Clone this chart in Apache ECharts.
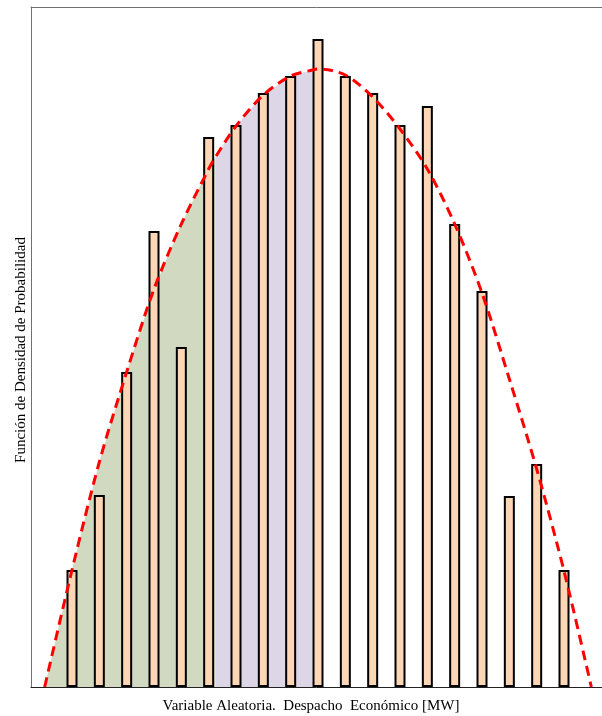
<!DOCTYPE html>
<html>
<head>
<meta charset="utf-8">
<script src="https://cdn.jsdelivr.net/npm/echarts@6/dist/echarts.min.js"></script>
<style>html,body{margin:0;padding:0;background:#fff;}#c{width:602px;height:716px;}</style>
</head>
<body>
<div id="c"></div>
<script>
// Histogram bin centres (class index) and bar heights (relative density)
const binCenters = [1,2,3,4,5,6,7,8,9,10,11,12,13,14,15,16,17,18,19];
const barHeights = [117,192,315,456,340,550,562,594,611,648,611,594,562,581,463,396,191,223,117];

// Fitted density curve (dashed)
const curveX = [0,1,2,3,4,5,6,6.25,7,8,9,9.8,10,11,12,13,14,15,16,17,18,19,20];
const curveY = [0,117,225,315,398,463,518,530,561,592,611,617,618,612,590,558,518,463,394,308,218,116,0];

// Shaded regions under the curve
const greenFrom = 0, greenTo = 6.25;
const purpleFrom = 6.25, purpleTo = 9.8;

const xLabel = 'Variable Aleatoria.  Despacho  Económico [MW]';
const yLabel = 'Función de Densidad de Probabilidad';

const curve = curveX.map((x, i) => [x, curveY[i]]);
const greenPts = curve.filter(p => p[0] >= greenFrom && p[0] <= greenTo);
const purplePts = curve.filter(p => p[0] >= purpleFrom && p[0] <= purpleTo);
const bars = binCenters.map((x, i) => [x, barHeights[i]]);

const xMin = -0.5, xMax = 20.39;
const hidden = {axisTick: {show: false}, axisLabel: {show: false}, splitLine: {show: false}};

const chart = echarts.init(document.getElementById('c'), null, {renderer: 'canvas'});
chart.setOption({
  animation: false,
  backgroundColor: '#ffffff',
  grid: {left: 31, top: 7, right: 0, bottom: 29, show: false},
  xAxis: [
    Object.assign({type: 'value', min: xMin, max: xMax, position: 'bottom',
      axisLine: {show: true, onZero: false, lineStyle: {color: '#222', width: 1}}}, hidden),
    Object.assign({type: 'value', min: xMin, max: xMax, position: 'top',
      axisLine: {show: true, onZero: false, lineStyle: {color: '#707070', width: 1}}}, hidden)
  ],
  yAxis: Object.assign({type: 'value', min: 0, max: 680,
    axisLine: {show: true, onZero: false, lineStyle: {color: '#707070', width: 1}}}, hidden),
  series: [
    {type: 'line', data: greenPts, symbol: 'none', lineStyle: {width: 0}, areaStyle: {color: '#d1d9c0', opacity: 1}, z: 1},
    {type: 'line', data: purplePts, symbol: 'none', lineStyle: {width: 0}, areaStyle: {color: '#ddd6e6', opacity: 1}, z: 1},
    {type: 'bar', data: bars, barWidth: 11, itemStyle: {color: '#fdd6b5', borderColor: '#000', borderWidth: 2}, z: 2},
    {type: 'line', data: curve, symbol: 'none', smooth: 0.3,
     lineStyle: {color: '#ff0000', width: 3, type: [10, 6]}, z: 3}
  ],
  graphic: [
    {type: 'text', x: 311, y: 706, style: {text: xLabel, font: '15px "Liberation Serif", serif', fill: '#000', align: 'center', verticalAlign: 'middle'}},
    {type: 'text', x: 21, y: 350, rotation: Math.PI / 2, style: {text: yLabel, font: '15px "Liberation Serif", serif', fill: '#000', align: 'center', verticalAlign: 'middle'}}
  ]
});
</script>
</body>
</html>
